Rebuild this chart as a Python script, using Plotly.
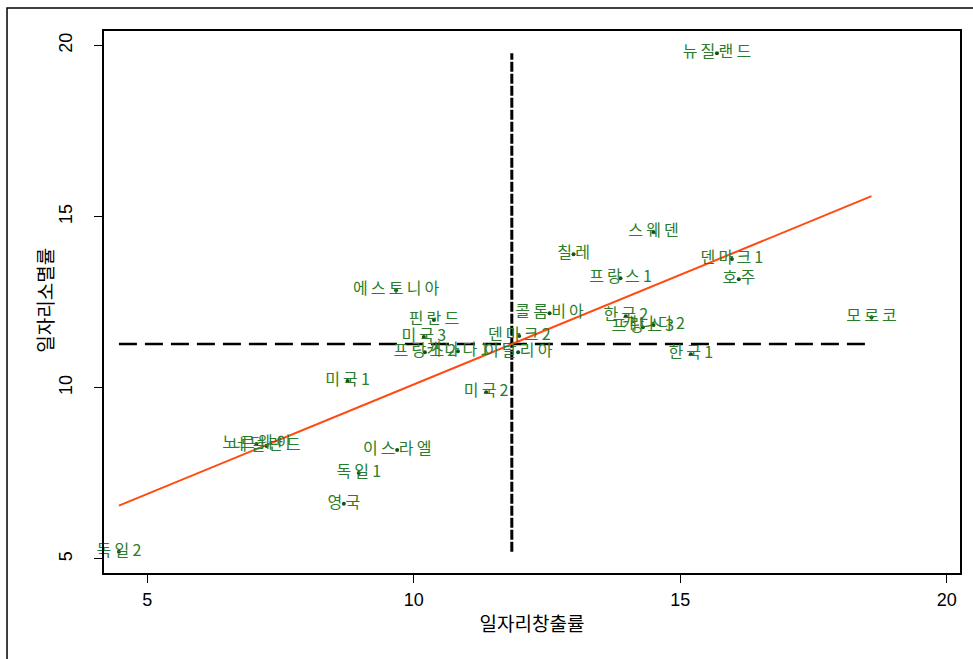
import numpy as np
import plotly.graph_objects as go

# Job creation vs. job destruction rates by country/period
countries = ["뉴질랜드", "스웨덴", "칠레", "덴마크1", "프랑스1", "호주", "에스토니아",
             "콜롬비아", "한국2", "프랑스3", "캐나다2", "모로코", "핀란드", "미국3",
             "덴마크2", "프랑스2", "캐나다1", "이탈리아", "한국1", "미국1", "미국2",
             "이스라엘", "노르웨이", "네덜란드", "독일1", "영국", "독일2"]
creation = [15.69, 14.50, 13.00, 15.97, 13.88, 16.10, 9.67,
            12.55, 13.98, 14.30, 14.50, 18.59, 10.38, 10.19,
            11.98, 10.21, 10.83, 11.96, 15.20, 8.76, 11.36,
            9.69, 7.05, 7.24, 8.97, 8.69, 4.47]
destruction = [19.77, 14.54, 13.90, 13.76, 13.20, 13.17, 12.85,
               12.18, 12.09, 11.77, 11.83, 12.06, 11.98, 11.48,
               11.51, 11.04, 11.07, 11.04, 10.98, 10.20, 9.87,
               8.18, 8.36, 8.30, 7.51, 6.61, 5.21]
tick_vals = [5, 10, 15, 20]

x = np.array(creation)
y = np.array(destruction)
x_mean, y_mean = x.mean(), y.mean()
slope, intercept = np.polyfit(x, y, 1)
x_fit = np.array([x.min(), x.max()])
y_fit = intercept + slope * x_fit

# widely tracked marker labels (thin space between glyphs)
labels = ["\u2009".join(name) for name in countries]

fig = go.Figure()

# mean reference lines
fig.add_trace(go.Scatter(x=[x.min(), x.max()], y=[y_mean, y_mean], mode="lines",
                         line=dict(color="black", width=2.5, dash="18px,8px"),
                         hoverinfo="skip", showlegend=False))
fig.add_trace(go.Scatter(x=[x_mean, x_mean], y=[y.min(), y.max()], mode="lines",
                         line=dict(color="black", width=3, dash="10px,2px"),
                         hoverinfo="skip", showlegend=False))

# linear fit
fig.add_trace(go.Scatter(x=x_fit, y=y_fit, mode="lines",
                         line=dict(color="#ff4a12", width=2),
                         hoverinfo="skip", showlegend=False))

# labelled points
fig.add_trace(go.Scatter(x=x, y=y, mode="markers+text", text=labels,
                         textposition="middle center", cliponaxis=False,
                         marker=dict(color="#145214", size=4),
                         textfont=dict(family="Noto Sans CJK KR", size=16, color="#2a7d2a"),
                         showlegend=False))

axis_common = dict(showgrid=False, zeroline=False, showline=True, linecolor="black",
                   linewidth=1.5, mirror=True, ticks="outside", ticklen=8,
                   tickcolor="black", tickwidth=1, tickvals=tick_vals,
                   tickfont=dict(family="Liberation Sans, Arial", size=18, color="black"))

fig.update_xaxes(range=[4.19, 20.25], ticklabelstandoff=2, **axis_common,
                 title=dict(text="일자리창출률", standoff=8,
                            font=dict(family="Noto Sans CJK KR", size=19, color="black")))
fig.update_yaxes(range=[4.59, 20.42], tickangle=-90, ticklabelstandoff=15, **axis_common)

# y-axis title placed beside the rotated tick labels
fig.add_annotation(text="일자리소멸률", xref="paper", yref="paper",
                   x=-0.069, y=0.504, xanchor="center", yanchor="middle",
                   textangle=-90, showarrow=False,
                   font=dict(family="Noto Sans CJK KR", size=19, color="black"))

# outer graph frame
fig.add_shape(type="rect", xref="paper", yref="paper", x0=-0.1133, y0=-0.5,
              x1=1.3, y1=1.0424, line=dict(color="black", width=1.5),
              fillcolor="rgba(0,0,0,0)", layer="below")

fig.update_layout(width=973, height=659, margin=dict(l=104, r=13, t=31, b=86),
                  plot_bgcolor="white", paper_bgcolor="white")

fig.write_html("out.html")
